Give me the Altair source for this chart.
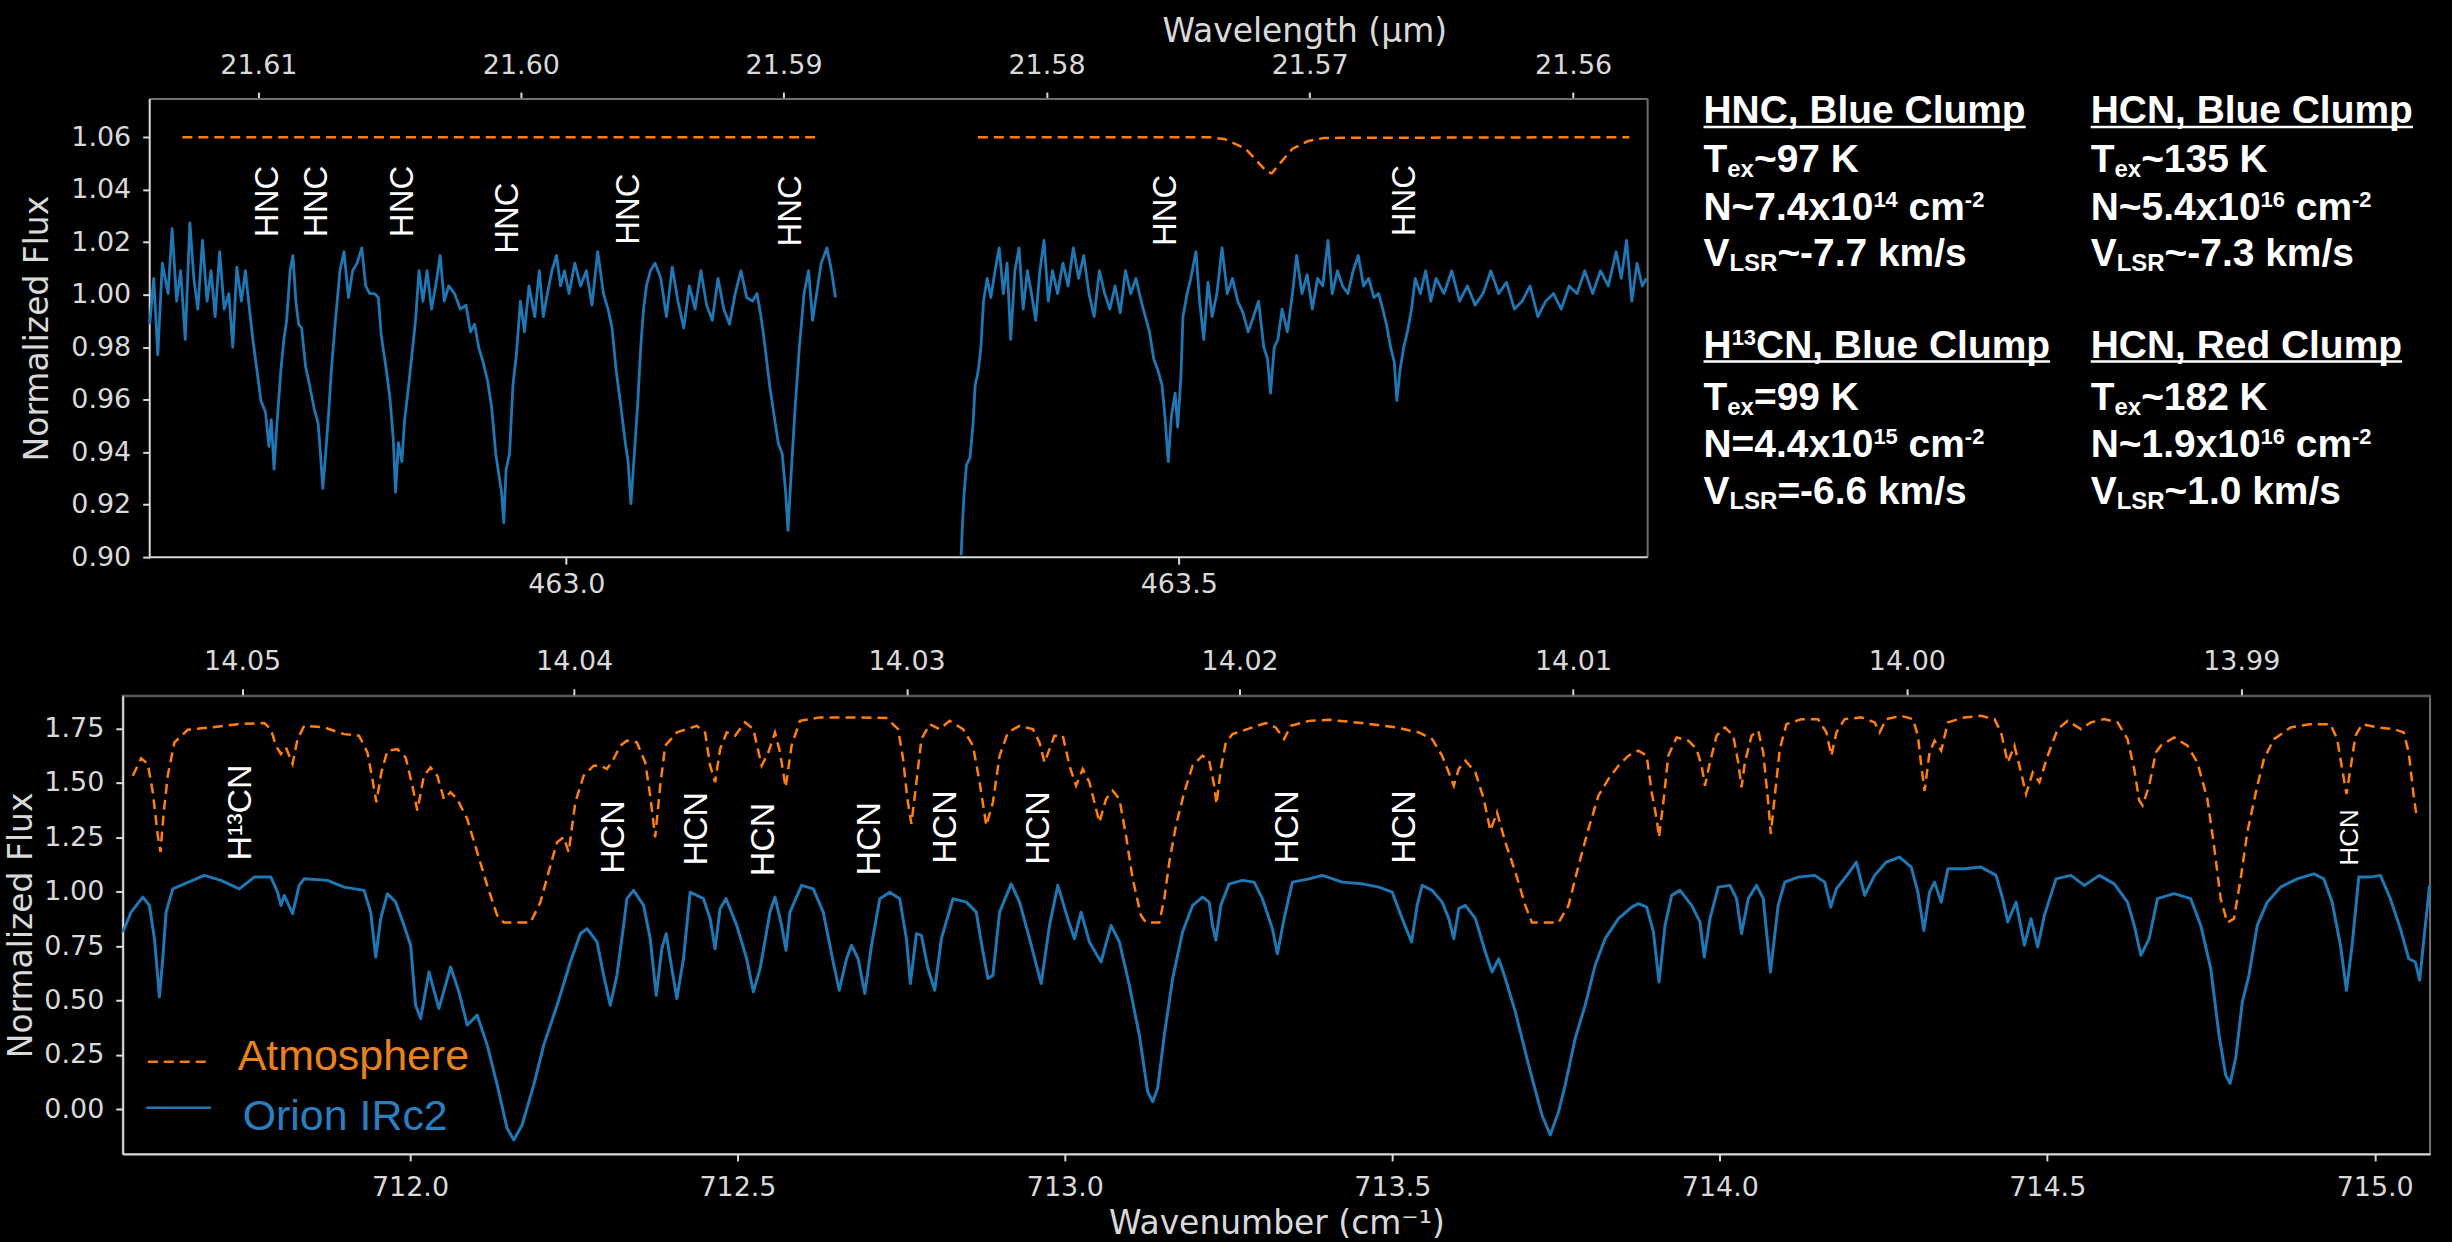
import altair as alt
import pandas as pd

# ---------------------------------------------------------------------------
# Orion IRc2 spectrum around the HNC band (wavenumber in cm^-1, normalized flux).
# Two spectral orders with a gap between them.
ORION_HNC_A = [
    (462.6600, 0.9887), (462.6633, 1.0062), (462.6666, 0.9771), (462.6703, 1.0120), (462.6750, 1.0004),
    (462.6783, 1.0251), (462.6820, 0.9975), (462.6853, 1.0091), (462.6890, 0.9829), (462.6928, 1.0273),
    (462.6960, 1.0062), (462.6993, 0.9945), (462.7031, 1.0207), (462.7068, 0.9975), (462.7101, 1.0091),
    (462.7134, 0.9916), (462.7171, 1.0164), (462.7208, 0.9945), (462.7246, 1.0004), (462.7278, 0.9800),
    (462.7311, 1.0105), (462.7349, 0.9975), (462.7381, 1.0091), (462.7414, 0.9945), (462.7442, 0.9829),
    (462.7475, 0.9713), (462.7508, 0.9596), (462.7545, 0.9553), (462.7573, 0.9422), (462.7592, 0.9524),
    (462.7615, 0.9335), (462.7639, 0.9509), (462.7671, 0.9713), (462.7695, 0.9829), (462.7718, 0.9902),
    (462.7746, 1.0091), (462.7769, 1.0149), (462.7793, 0.9975), (462.7816, 0.9887), (462.7840, 0.9873),
    (462.7872, 0.9727), (462.7905, 0.9655), (462.7942, 0.9567), (462.7975, 0.9509), (462.7994, 0.9393),
    (462.8013, 0.9262), (462.8036, 0.9393), (462.8059, 0.9538), (462.8083, 0.9713), (462.8116, 0.9902),
    (462.8153, 1.0091), (462.8186, 1.0164), (462.8223, 0.9989), (462.8256, 1.0091), (462.8293, 1.0120),
    (462.8331, 1.0178), (462.8363, 1.0033), (462.8396, 1.0004), (462.8434, 1.0004), (462.8466, 0.9989),
    (462.8490, 0.9844), (462.8527, 0.9727), (462.8560, 0.9611), (462.8588, 0.9451), (462.8607, 0.9247),
    (462.8630, 0.9436), (462.8658, 0.9364), (462.8681, 0.9524), (462.8714, 0.9655), (462.8747, 0.9800),
    (462.8770, 0.9902), (462.8798, 1.0091), (462.8831, 0.9975), (462.8864, 1.0091), (462.8901, 0.9945),
    (462.8939, 1.0047), (462.8971, 1.0149), (462.9004, 0.9975), (462.9041, 1.0033), (462.9088, 1.0004),
    (462.9135, 0.9945), (462.9182, 0.9960), (462.9219, 0.9858), (462.9252, 0.9887), (462.9285, 0.9800),
    (462.9322, 0.9742), (462.9359, 0.9669), (462.9392, 0.9567), (462.9425, 0.9393), (462.9453, 0.9305),
    (462.9472, 0.9247), (462.9490, 0.9131), (462.9509, 0.9335), (462.9537, 0.9393), (462.9565, 0.9655),
    (462.9593, 0.9771), (462.9626, 0.9975), (462.9659, 0.9858), (462.9696, 1.0033), (462.9743, 0.9916),
    (462.9780, 1.0091), (462.9813, 0.9916), (462.9846, 1.0004), (462.9883, 1.0091), (462.9921, 1.0149),
    (462.9953, 1.0033), (462.9986, 1.0091), (463.0023, 1.0004), (463.0070, 1.0120), (463.0117, 1.0033),
    (463.0164, 1.0091), (463.0210, 0.9960), (463.0257, 1.0164), (463.0304, 1.0004), (463.0341, 0.9945),
    (463.0374, 0.9873), (463.0407, 0.9713), (463.0444, 0.9582), (463.0482, 0.9436), (463.0505, 0.9364),
    (463.0528, 0.9204), (463.0556, 0.9393), (463.0585, 0.9596), (463.0608, 0.9800), (463.0631, 0.9945),
    (463.0655, 1.0033), (463.0687, 1.0091), (463.0725, 1.0120), (463.0772, 1.0062), (463.0818, 0.9916),
    (463.0865, 1.0105), (463.0912, 0.9975), (463.0959, 0.9873), (463.1005, 1.0033), (463.1052, 0.9945),
    (463.1099, 1.0091), (463.1146, 0.9960), (463.1192, 0.9902), (463.1239, 1.0062), (463.1286, 0.9945),
    (463.1333, 0.9887), (463.1379, 1.0004), (463.1426, 1.0091), (463.1473, 0.9989), (463.1520, 0.9975),
    (463.1557, 1.0004), (463.1590, 0.9916), (463.1623, 0.9800), (463.1660, 0.9655), (463.1697, 0.9538),
    (463.1730, 0.9436), (463.1763, 0.9393), (463.1791, 0.9247), (463.1810, 0.9102), (463.1838, 0.9335),
    (463.1870, 0.9582), (463.1903, 0.9800), (463.1941, 1.0004), (463.1978, 1.0091), (463.2011, 0.9902),
    (463.2044, 1.0004), (463.2081, 1.0120), (463.2128, 1.0178), (463.2165, 1.0091), (463.2198, 0.9989),
]
ORION_HNC_B = [
    (463.3223, 0.9007), (463.3244, 0.9218), (463.3266, 0.9349), (463.3295, 0.9378), (463.3321, 0.9509),
    (463.3338, 0.9655), (463.3364, 0.9713), (463.3385, 0.9800), (463.3406, 0.9975), (463.3436, 1.0062),
    (463.3466, 0.9989), (463.3500, 1.0091), (463.3534, 1.0178), (463.3568, 1.0004), (463.3598, 1.0120),
    (463.3628, 0.9829), (463.3662, 1.0091), (463.3696, 1.0178), (463.3730, 0.9945), (463.3764, 1.0091),
    (463.3798, 1.0004), (463.3832, 0.9902), (463.3866, 1.0091), (463.3900, 1.0207), (463.3935, 0.9975),
    (463.3969, 1.0091), (463.4011, 1.0004), (463.4054, 1.0120), (463.4096, 1.0033), (463.4139, 1.0178),
    (463.4182, 1.0062), (463.4224, 1.0149), (463.4267, 1.0004), (463.4309, 0.9916), (463.4352, 1.0091),
    (463.4395, 1.0004), (463.4437, 0.9945), (463.4480, 1.0033), (463.4522, 0.9931), (463.4565, 1.0091),
    (463.4608, 1.0004), (463.4650, 1.0062), (463.4693, 0.9975), (463.4727, 0.9916), (463.4761, 0.9858),
    (463.4795, 0.9756), (463.4829, 0.9713), (463.4863, 0.9655), (463.4889, 0.9524), (463.4914, 0.9364),
    (463.4940, 0.9538), (463.4970, 0.9625), (463.4991, 0.9495), (463.5017, 0.9684), (463.5034, 0.9916),
    (463.5068, 1.0004), (463.5098, 1.0062), (463.5140, 1.0164), (463.5170, 0.9975), (463.5204, 0.9829),
    (463.5238, 1.0047), (463.5272, 0.9916), (463.5311, 1.0004), (463.5353, 1.0178), (463.5396, 1.0004),
    (463.5438, 1.0062), (463.5481, 0.9975), (463.5524, 0.9931), (463.5566, 0.9858), (463.5609, 0.9916),
    (463.5651, 0.9975), (463.5694, 0.9800), (463.5724, 0.9756), (463.5749, 0.9625), (463.5779, 0.9800),
    (463.5809, 0.9829), (463.5843, 0.9945), (463.5886, 0.9858), (463.5928, 1.0004), (463.5962, 1.0149),
    (463.6005, 1.0004), (463.6048, 1.0076), (463.6090, 0.9945), (463.6133, 1.0062), (463.6175, 1.0033),
    (463.6218, 1.0207), (463.6252, 1.0004), (463.6295, 1.0091), (463.6337, 1.0033), (463.6380, 1.0004),
    (463.6423, 1.0091), (463.6465, 1.0149), (463.6508, 1.0033), (463.6550, 1.0062), (463.6593, 0.9989),
    (463.6631, 1.0004), (463.6665, 0.9945), (463.6695, 0.9887), (463.6729, 0.9800), (463.6759, 0.9742),
    (463.6780, 0.9596), (463.6806, 0.9713), (463.6836, 0.9800), (463.6866, 0.9858), (463.6900, 0.9945),
    (463.6930, 1.0062), (463.6972, 1.0004), (463.7015, 1.0091), (463.7057, 0.9975), (463.7100, 1.0062),
    (463.7164, 1.0004), (463.7228, 1.0091), (463.7292, 0.9975), (463.7356, 1.0033), (463.7419, 0.9960),
    (463.7483, 1.0004), (463.7547, 1.0091), (463.7611, 1.0004), (463.7675, 1.0047), (463.7739, 0.9945),
    (463.7803, 0.9975), (463.7867, 1.0033), (463.7931, 0.9916), (463.7995, 0.9975), (463.8059, 1.0004),
    (463.8122, 0.9945), (463.8186, 1.0033), (463.8250, 1.0004), (463.8314, 1.0091), (463.8378, 1.0004),
    (463.8442, 1.0091), (463.8506, 1.0033), (463.8570, 1.0164), (463.8612, 1.0062), (463.8655, 1.0207),
    (463.8698, 0.9975), (463.8740, 1.0120), (463.8783, 1.0033), (463.8817, 1.0062),
]
# Atmospheric transmission model over the same two orders
ATM_HNC_A = [(462.6867, 1.0600), (463.2058, 1.0600)]
ATM_HNC_B = [
    (463.3360, 1.0600), (463.5245, 1.0600), (463.5371, 1.0593), (463.5544, 1.0556), (463.5630, 1.0513),
    (463.5716, 1.0469), (463.5759, 1.0462), (463.5822, 1.0498), (463.5928, 1.0556), (463.6056, 1.0585),
    (463.6184, 1.0597), (463.8677, 1.0600),
]
HNC_LINES = [462.7568, 462.7966, 462.8667, 462.9523, 463.0515, 463.1838, 463.4897, 463.6844]
HNC_LABEL_FLUX = [1.0219, 1.0219, 1.0219, 1.0156, 1.0190, 1.0183, 1.0185, 1.0222]

# ---------------------------------------------------------------------------
# Orion IRc2 spectrum around the HCN band
ORION_HCN = [
    (711.5616, 0.815), (711.5742, 0.906), (711.5920, 0.975), (711.6022, 0.937), (711.6098, 0.784),
    (711.6174, 0.517), (711.6225, 0.692), (711.6276, 0.906), (711.6378, 1.013), (711.6555, 1.036),
    (711.6860, 1.075), (711.7114, 1.052), (711.7394, 1.013), (711.7622, 1.067), (711.7876, 1.067),
    (711.7978, 0.998), (711.8029, 0.937), (711.8080, 0.983), (711.8207, 0.899), (711.8308, 1.029),
    (711.8384, 1.059), (711.8740, 1.052), (711.8994, 1.021), (711.9299, 1.006), (711.9400, 0.906),
    (711.9477, 0.700), (711.9553, 0.876), (711.9655, 0.991), (711.9782, 0.952), (711.9909, 0.845),
    (712.0010, 0.754), (712.0086, 0.478), (712.0163, 0.417), (712.0290, 0.631), (712.0442, 0.463),
    (712.0620, 0.654), (712.0747, 0.540), (712.0874, 0.387), (712.1026, 0.433), (712.1179, 0.295),
    (712.1331, 0.112), (712.1483, -0.087), (712.1585, -0.141), (712.1712, -0.072), (712.1890, 0.112),
    (712.2042, 0.295), (712.2246, 0.478), (712.2449, 0.677), (712.2601, 0.807), (712.2703, 0.830),
    (712.2855, 0.769), (712.2957, 0.616), (712.3058, 0.478), (712.3160, 0.616), (712.3262, 0.845),
    (712.3312, 0.968), (712.3414, 1.006), (712.3567, 0.937), (712.3668, 0.784), (712.3760, 0.524),
    (712.3846, 0.738), (712.3912, 0.807), (712.3973, 0.692), (712.4075, 0.509), (712.4176, 0.692),
    (712.4278, 0.998), (712.4481, 0.968), (712.4583, 0.876), (712.4659, 0.738), (712.4735, 0.922),
    (712.4826, 0.968), (712.4989, 0.845), (712.5141, 0.692), (712.5243, 0.540), (712.5345, 0.646),
    (712.5497, 0.906), (712.5573, 0.975), (712.5675, 0.845), (712.5741, 0.731), (712.5802, 0.906),
    (712.5980, 1.029), (712.6158, 1.013), (712.6310, 0.906), (712.6462, 0.677), (712.6554, 0.547),
    (712.6666, 0.692), (712.6742, 0.754), (712.6843, 0.692), (712.6945, 0.532), (712.7047, 0.754),
    (712.7174, 0.968), (712.7326, 0.998), (712.7478, 0.968), (712.7580, 0.784), (712.7641, 0.578),
    (712.7733, 0.807), (712.7809, 0.799), (712.7910, 0.646), (712.8012, 0.547), (712.8114, 0.784),
    (712.8292, 0.968), (712.8495, 0.952), (712.8647, 0.906), (712.8749, 0.723), (712.8825, 0.601),
    (712.8901, 0.616), (712.9003, 0.906), (712.9180, 1.036), (712.9308, 0.952), (712.9460, 0.784),
    (712.9638, 0.578), (712.9765, 0.845), (712.9892, 1.029), (713.0044, 0.876), (713.0146, 0.784),
    (713.0247, 0.906), (713.0374, 0.769), (713.0552, 0.677), (713.0705, 0.845), (713.0832, 0.769),
    (713.0984, 0.570), (713.1137, 0.341), (713.1264, 0.081), (713.1340, 0.035), (713.1416, 0.096),
    (713.1518, 0.341), (713.1645, 0.601), (713.1797, 0.815), (713.1950, 0.937), (713.2102, 0.975),
    (713.2203, 0.952), (713.2254, 0.845), (713.2305, 0.777), (713.2381, 0.937), (713.2508, 1.036),
    (713.2711, 1.052), (713.2889, 1.044), (713.3016, 0.968), (713.3169, 0.830), (713.3245, 0.715),
    (713.3347, 0.876), (713.3474, 1.044), (713.3728, 1.059), (713.3931, 1.075), (713.4236, 1.044),
    (713.4540, 1.036), (713.4794, 1.021), (713.4998, 0.998), (713.5150, 0.876), (713.5293, 0.769),
    (713.5379, 0.937), (713.5455, 1.029), (713.5608, 1.006), (713.5760, 0.952), (713.5862, 0.876),
    (713.5938, 0.784), (713.6014, 0.922), (713.6116, 0.937), (713.6268, 0.876), (713.6420, 0.723),
    (713.6522, 0.631), (713.6624, 0.692), (713.6725, 0.601), (713.6878, 0.448), (713.7081, 0.203),
    (713.7284, -0.026), (713.7411, -0.118), (713.7538, -0.011), (713.7640, 0.112), (713.7792, 0.326),
    (713.7944, 0.478), (713.8097, 0.662), (713.8249, 0.784), (713.8452, 0.876), (713.8656, 0.929),
    (713.8757, 0.945), (713.8884, 0.929), (713.8986, 0.815), (713.9072, 0.585), (713.9164, 0.845),
    (713.9265, 0.983), (713.9392, 1.006), (713.9570, 0.937), (713.9697, 0.861), (713.9763, 0.700),
    (713.9850, 0.876), (713.9977, 1.021), (714.0155, 1.029), (714.0256, 0.968), (714.0332, 0.807),
    (714.0434, 0.968), (714.0561, 1.029), (714.0663, 0.968), (714.0774, 0.631), (714.0891, 0.937),
    (714.0993, 1.044), (714.1196, 1.067), (714.1450, 1.075), (714.1602, 1.044), (714.1694, 0.929),
    (714.1780, 1.013), (714.1958, 1.082), (714.2085, 1.136), (714.2212, 0.983), (714.2364, 1.075),
    (714.2542, 1.136), (714.2745, 1.159), (714.2923, 1.113), (714.3025, 0.998), (714.3116, 0.822),
    (714.3203, 0.998), (714.3279, 1.044), (714.3381, 0.952), (714.3482, 1.105), (714.3736, 1.105),
    (714.3990, 1.113), (714.4219, 1.075), (714.4320, 0.968), (714.4397, 0.861), (714.4524, 0.952),
    (714.4651, 0.754), (714.4752, 0.876), (714.4854, 0.746), (714.4956, 0.891), (714.5134, 1.059),
    (714.5362, 1.075), (714.5565, 1.029), (714.5794, 1.075), (714.6023, 1.036), (714.6226, 0.952),
    (714.6328, 0.845), (714.6430, 0.708), (714.6556, 0.784), (714.6683, 0.968), (714.6937, 0.991),
    (714.7191, 0.968), (714.7344, 0.845), (714.7496, 0.647), (714.7623, 0.341), (714.7725, 0.157),
    (714.7791, 0.119), (714.7877, 0.234), (714.7979, 0.494), (714.8080, 0.616), (714.8207, 0.845),
    (714.8359, 0.952), (714.8563, 1.021), (714.8817, 1.059), (714.9071, 1.082), (714.9223, 1.059),
    (714.9350, 0.952), (714.9477, 0.754), (714.9569, 0.547), (714.9655, 0.754), (714.9757, 1.067),
    (714.9935, 1.067), (715.0087, 1.075), (715.0239, 0.968), (715.0392, 0.830), (715.0519, 0.692),
    (715.0620, 0.677), (715.0686, 0.593), (715.0773, 0.845), (715.0839, 1.029),
]
ATM_HCN = [
    (711.5768, 1.533), (711.5895, 1.613), (711.5997, 1.587), (711.6073, 1.457), (711.6149, 1.258),
    (711.6190, 1.182), (711.6240, 1.365), (711.6301, 1.533), (711.6403, 1.686), (711.6606, 1.744),
    (711.6962, 1.755), (711.7368, 1.770), (711.7775, 1.775), (711.7876, 1.747), (711.7953, 1.671),
    (711.8029, 1.633), (711.8105, 1.663), (711.8207, 1.587), (711.8283, 1.701), (711.8384, 1.762),
    (711.8689, 1.755), (711.8994, 1.724), (711.9223, 1.717), (711.9350, 1.640), (711.9426, 1.518),
    (711.9487, 1.411), (711.9563, 1.548), (711.9655, 1.648), (711.9807, 1.655), (711.9934, 1.617),
    (712.0036, 1.487), (712.0112, 1.373), (712.0213, 1.533), (712.0315, 1.571), (712.0417, 1.533),
    (712.0518, 1.426), (712.0620, 1.457), (712.0721, 1.426), (712.0874, 1.334), (712.1026, 1.182),
    (712.1179, 1.029), (712.1331, 0.891), (712.1433, 0.858), (712.1839, 0.858), (712.1992, 0.952),
    (712.2144, 1.120), (712.2246, 1.227), (712.2347, 1.250), (712.2423, 1.182), (712.2525, 1.411),
    (712.2652, 1.533), (712.2804, 1.579), (712.2906, 1.579), (712.3008, 1.564), (712.3109, 1.610),
    (712.3211, 1.671), (712.3312, 1.694), (712.3465, 1.686), (712.3592, 1.594), (712.3668, 1.441),
    (712.3744, 1.250), (712.3821, 1.487), (712.3897, 1.671), (712.4075, 1.732), (712.4379, 1.762),
    (712.4506, 1.732), (712.4583, 1.579), (712.4659, 1.503), (712.4735, 1.655), (712.4837, 1.732),
    (712.4964, 1.717), (712.5116, 1.778), (712.5243, 1.747), (712.5370, 1.579), (712.5472, 1.640),
    (712.5573, 1.732), (712.5650, 1.640), (712.5736, 1.480), (712.5827, 1.671), (712.5954, 1.785),
    (712.6259, 1.801), (712.6767, 1.801), (712.7275, 1.798), (712.7453, 1.747), (712.7529, 1.610),
    (712.7595, 1.426), (712.7656, 1.312), (712.7733, 1.503), (712.7809, 1.701), (712.7936, 1.770),
    (712.8088, 1.747), (712.8241, 1.785), (712.8444, 1.747), (712.8596, 1.671), (712.8698, 1.503),
    (712.8800, 1.304), (712.8901, 1.411), (712.9003, 1.625), (712.9130, 1.732), (712.9308, 1.762),
    (712.9511, 1.747), (712.9612, 1.686), (712.9689, 1.594), (712.9765, 1.655), (712.9841, 1.717),
    (712.9968, 1.717), (713.0070, 1.579), (713.0171, 1.487), (713.0273, 1.564), (713.0374, 1.503),
    (713.0527, 1.319), (713.0628, 1.426), (713.0730, 1.464), (713.0832, 1.426), (713.0933, 1.258),
    (713.1035, 1.059), (713.1162, 0.891), (713.1238, 0.858), (713.1441, 0.858), (713.1518, 0.968),
    (713.1594, 1.136), (713.1696, 1.304), (713.1823, 1.457), (713.1950, 1.579), (713.2102, 1.625),
    (713.2203, 1.602), (713.2280, 1.487), (713.2315, 1.403), (713.2381, 1.564), (713.2457, 1.686),
    (713.2559, 1.724), (713.2864, 1.755), (713.3067, 1.775), (713.3219, 1.755), (713.3347, 1.701),
    (713.3448, 1.762), (713.3728, 1.785), (713.4032, 1.790), (713.4540, 1.775), (713.5048, 1.755),
    (713.5404, 1.732), (713.5608, 1.701), (713.5760, 1.625), (713.5862, 1.548), (713.5938, 1.487),
    (713.6014, 1.564), (713.6116, 1.602), (713.6268, 1.548), (713.6395, 1.426), (713.6497, 1.281),
    (713.6598, 1.365), (713.6725, 1.227), (713.6878, 1.090), (713.7030, 0.937), (713.7132, 0.858),
    (713.7538, 0.858), (713.7690, 0.937), (713.7843, 1.120), (713.7995, 1.289), (713.8147, 1.441),
    (713.8300, 1.518), (713.8452, 1.579), (713.8605, 1.625), (713.8757, 1.648), (713.8884, 1.625),
    (713.8960, 1.457), (713.9036, 1.334), (713.9072, 1.250), (713.9138, 1.411), (713.9214, 1.625),
    (713.9341, 1.709), (713.9519, 1.694), (713.9646, 1.655), (713.9722, 1.579), (713.9773, 1.487),
    (713.9850, 1.594), (713.9951, 1.717), (714.0078, 1.755), (714.0205, 1.717), (714.0281, 1.594),
    (714.0332, 1.480), (714.0383, 1.594), (714.0485, 1.717), (714.0587, 1.740), (714.0663, 1.640),
    (714.0739, 1.411), (714.0779, 1.266), (714.0840, 1.441), (714.0916, 1.655), (714.1018, 1.770),
    (714.1247, 1.793), (714.1501, 1.793), (714.1628, 1.732), (714.1704, 1.625), (714.1780, 1.732),
    (714.1907, 1.793), (714.2161, 1.801), (714.2364, 1.778), (714.2441, 1.732), (714.2542, 1.793),
    (714.2771, 1.808), (714.2949, 1.793), (714.3025, 1.717), (714.3076, 1.579), (714.3127, 1.464),
    (714.3203, 1.640), (714.3279, 1.694), (714.3381, 1.648), (714.3482, 1.778), (714.3736, 1.801),
    (714.3990, 1.808), (714.4194, 1.793), (714.4295, 1.732), (714.4397, 1.594), (714.4499, 1.671),
    (714.4600, 1.548), (714.4676, 1.449), (714.4778, 1.548), (714.4880, 1.503), (714.5007, 1.625),
    (714.5159, 1.747), (714.5311, 1.785), (714.5515, 1.747), (714.5667, 1.778), (714.5870, 1.793),
    (714.6074, 1.778), (714.6226, 1.701), (714.6328, 1.564), (714.6404, 1.419), (714.6455, 1.396),
    (714.6556, 1.487), (714.6658, 1.640), (714.6734, 1.671), (714.6937, 1.709), (714.7140, 1.671),
    (714.7292, 1.594), (714.7445, 1.426), (714.7546, 1.212), (714.7648, 0.968), (714.7750, 0.858),
    (714.7851, 0.876), (714.7953, 1.059), (714.8055, 1.273), (714.8207, 1.487), (714.8309, 1.610),
    (714.8461, 1.701), (714.8715, 1.755), (714.9020, 1.770), (714.9325, 1.770), (714.9427, 1.701),
    (714.9503, 1.564), (714.9569, 1.449), (714.9630, 1.564), (714.9706, 1.717), (714.9808, 1.770),
    (715.0036, 1.755), (715.0290, 1.747), (715.0443, 1.732), (715.0519, 1.640), (715.0595, 1.441),
    (715.0646, 1.334),
]
HCN_NAMES = ["H\u00b9\u00b3CN", "HCN", "HCN", "HCN", "HCN", "HCN", "HCN", "HCN", "HCN"]
HCN_LINES = [711.742, 712.311, 712.438, 712.540, 712.702, 712.818, 712.960, 713.341, 713.519]
HCN_LABEL_FLUX = [1.143, 1.082, 1.120, 1.071, 1.074, 1.128, 1.124, 1.128, 1.128]
HCN_WEAK_LINE = [714.963]
HCN_WEAK_LABEL_FLUX = [1.120]

# Axis ticks
WN_TICKS_HNC = [463.0, 463.5]
WN_TICKS_HCN = [712.0, 712.5, 713.0, 713.5, 714.0, 714.5, 715.0]
WL_TICKS_HNC = [21.61, 21.60, 21.59, 21.58, 21.57, 21.56]
WL_TICKS_HCN = [14.05, 14.04, 14.03, 14.02, 14.01, 14.00, 13.99]
FLUX_TICKS_HNC = [0.90, 0.92, 0.94, 0.96, 0.98, 1.00, 1.02, 1.04, 1.06]
FLUX_TICKS_HCN = [0.00, 0.25, 0.50, 0.75, 1.00, 1.25, 1.50, 1.75]

# Fit results: heading, excitation temperature, column density, velocity
FIT_BLOCKS = [
    {"head": [("HNC, Blue Clump", "n")], "tex": "~97 K", "n": "~7.4x10", "exp": "14", "v": "~-7.7 km/s"},
    {"head": [("H", "n"), ("13", "sup"), ("CN, Blue Clump", "n")], "tex": "=99 K", "n": "=4.4x10", "exp": "15", "v": "=-6.6 km/s"},
    {"head": [("HCN, Blue Clump", "n")], "tex": "~135 K", "n": "~5.4x10", "exp": "16", "v": "~-7.3 km/s"},
    {"head": [("HCN, Red Clump", "n")], "tex": "~182 K", "n": "~1.9x10", "exp": "16", "v": "~1.0 km/s"},
]

# ---------------------------------------------------------------------------
BLUE = "#1f77b4"
ORANGE = "#ff7f0e"
FG = "#d9d9d9"
SPINE = "#6e6e6e"
DASH = [10, 6]
LEFT = 121          # common left offset of both panel cells


def spectrum(pairs, seg=0):
    return pd.DataFrame({"wn": [p[0] for p in pairs], "flux": [p[1] for p in pairs], "seg": seg})


def wavelength_axis(ticks, **kw):
    return alt.Axis(orient="top", values=[1e4 / w for w in ticks],
                    labelExpr="format(10000 / datum.value, '.2f')",
                    domainColor="#555555", labelPadding=13, **kw)


def pixel_rule(color, **enc):
    return alt.Chart(one_row).mark_rule(color=color, strokeWidth=2).encode(
        **{k: alt.value(v) for k, v in enc.items()})


one_row = pd.DataFrame({"k": [0]})

# ---------------- HNC panel ----------------
# The HNC frame starts INSET px to the right of the cell origin; its x scale covers the inset too.
INSET = 27
TOP_W, TOP_H = 1528, 459
xs_top = alt.Scale(domain=[462.6380, 463.8827], nice=False, zero=False)
ys_top = alt.Scale(domain=[0.90, 1.0745], nice=False, zero=False)

orion_top = pd.concat([spectrum(ORION_HNC_A, 0), spectrum(ORION_HNC_B, 1)])
atm_top = pd.concat([spectrum(ATM_HNC_A, 0), spectrum(ATM_HNC_B, 1)])

top_frame = alt.layer(
    # invisible corner marks that pin the cell's outer extent
    pixel_rule("black", x=-LEFT, x2=-LEFT + 8, y=-96),
    pixel_rule("black", x=-LEFT, x2=-LEFT + 8, y=TOP_H + 46),
    # panel spines
    pixel_rule(SPINE, x=INSET, x2=TOP_W, y=0),
    pixel_rule(SPINE, x=TOP_W, y=0, y2=TOP_H),
    pixel_rule(FG, x=INSET, y=0, y2=TOP_H),
    pixel_rule(FG, x=INSET, x2=TOP_W, y=TOP_H),
)
top_atm = alt.Chart(atm_top).mark_line(color=ORANGE, strokeWidth=2.5, strokeDash=DASH).encode(
    x=alt.X("wn:Q", scale=xs_top,
            axis=wavelength_axis(WL_TICKS_HNC, title="Wavelength (\u00b5m)", titleX=1184, titleY=-68,
                                 titleBaseline="middle", domain=False)),
    y=alt.Y("flux:Q", scale=ys_top, axis=None),
    detail="seg:N",
)
top_orion = alt.Chart(orion_top).mark_line(color=BLUE, strokeWidth=2.8, strokeJoin="round").encode(
    x=alt.X("wn:Q", scale=xs_top,
            axis=alt.Axis(orient="bottom", values=WN_TICKS_HNC, format=".1f", title=None, labelPadding=7,
                          domain=False)),
    y=alt.Y("flux:Q", scale=ys_top,
            axis=alt.Axis(orient="left", offset=-INSET, domain=False, values=FLUX_TICKS_HNC, format=".2f",
                          title="Normalized Flux", labelPadding=12, titlePadding=16)),
    detail="seg:N",
)
hnc_labels = alt.Chart(pd.DataFrame({"wn": HNC_LINES, "flux": HNC_LABEL_FLUX, "name": "HNC"})).mark_text(
    angle=270, align="left", baseline="middle", font="Liberation Sans", fontSize=33, color="white"
).encode(
    x=alt.X("wn:Q", scale=xs_top, axis=None),
    y=alt.Y("flux:Q", scale=ys_top, axis=None),
    text="name:N",
)
top_panel = alt.layer(top_frame, top_atm, top_orion, hnc_labels).resolve_axis(
    x="independent", y="independent").properties(
    width=TOP_W, height=TOP_H, view=alt.ViewBackground(stroke="transparent"))

# ---------------- fit-result text block ----------------
ARIAL_BOLD = {"H": 722, "N": 722, "C": 722, ",": 278, " ": 278, "B": 722, "l": 278, "u": 611, "e": 556,
              "m": 889, "p": 611, "R": 722, "d": 611, "T": 611, "x": 556, "~": 584, "=": 584, "K": 722,
              ".": 278, "-": 333, "/": 278, "k": 556, "s": 556, "V": 667, "L": 611, "S": 667, "c": 556}
SIZES = {"n": 39, "sub": 24, "sup": 22}
SHIFT = {"n": 0, "sub": 5, "sup": -13}
COL_X = [53, 441]
ROW_BASE = [[24, 73, 121, 167], [259, 312, 359, 406]]


def text_width(s, size):
    return sum(ARIAL_BOLD.get(c, 556) for c in s) / 1000.0 * size


note_rows, underline_rows = [], []
for b, blk in enumerate(FIT_BLOCKS):
    x0 = COL_X[b // 2]
    bases = ROW_BASE[b % 2]
    lines = [
        blk["head"],
        [("T", "n"), ("ex", "sub"), (blk["tex"], "n")],
        [("N" + blk["n"], "n"), (blk["exp"], "sup"), (" cm", "n"), ("-2", "sup")],
        [("V", "n"), ("LSR", "sub"), (blk["v"], "n")],
    ]
    for li, (line, base) in enumerate(zip(lines, bases)):
        cx = x0
        for txt, kind in line:
            fs = SIZES[kind]
            body = txt.lstrip(" ")
            cx += text_width(txt[: len(txt) - len(body)], fs)
            note_rows.append({"t": body, "px": cx, "py": base + SHIFT[kind], "fs": fs})
            cx += text_width(body, fs)
        if li == 0:
            underline_rows.append({"x0": x0, "x1": cx, "uy": base + 4})

notes_text = alt.Chart(pd.DataFrame(note_rows)).mark_text(
    align="left", baseline="alphabetic", font="Liberation Sans", fontWeight="bold", color="white"
).encode(
    x=alt.X("px:Q", scale=None, axis=None),
    y=alt.Y("py:Q", scale=None, axis=None),
    size=alt.Size("fs:Q", scale=None, legend=None),
    text="t:N",
)
notes_rule = alt.Chart(pd.DataFrame(underline_rows)).mark_rule(color="white", strokeWidth=2.5).encode(
    x=alt.X("x0:Q", scale=None, axis=None),
    x2="x1:Q",
    y=alt.Y("uy:Q", scale=None, axis=None),
)
notes = alt.layer(notes_text, notes_rule).properties(
    width=802, height=TOP_H, view=alt.ViewBackground(stroke="transparent"))

# ---------------- HCN panel ----------------
BOT_W, BOT_H = 2312, 459
xs_bot = alt.Scale(domain=[711.5614, 715.0845], nice=False, zero=False)
ys_bot = alt.Scale(domain=[-0.205, 1.900], nice=False, zero=False)

bot_frame = pixel_rule("black", x=-LEFT, x2=-LEFT + 8, y=-50)
bot_atm = alt.Chart(spectrum(ATM_HCN)).mark_line(color=ORANGE, strokeWidth=2.5, strokeDash=DASH).encode(
    x=alt.X("wn:Q", scale=xs_bot, axis=wavelength_axis(WL_TICKS_HCN, title=None)),
    y=alt.Y("flux:Q", scale=ys_bot, axis=None),
)
bot_orion = alt.Chart(spectrum(ORION_HCN)).mark_line(color=BLUE, strokeWidth=3, strokeJoin="round").encode(
    x=alt.X("wn:Q", scale=xs_bot,
            axis=alt.Axis(orient="bottom", values=WN_TICKS_HCN, format=".1f",
                          title="Wavenumber (cm\u207b\u00b9)", labelPadding=14, titlePadding=7)),
    y=alt.Y("flux:Q", scale=ys_bot,
            axis=alt.Axis(orient="left", values=FLUX_TICKS_HCN, format=".2f", title="Normalized Flux",
                          labelPadding=12, titlePadding=5)),
)
hcn_labels = alt.Chart(pd.DataFrame({"wn": HCN_LINES, "flux": HCN_LABEL_FLUX, "name": HCN_NAMES})).mark_text(
    angle=270, align="left", baseline="middle", font="Liberation Sans", fontSize=34, color="white"
).encode(
    x=alt.X("wn:Q", scale=xs_bot, axis=None),
    y=alt.Y("flux:Q", scale=ys_bot, axis=None),
    text="name:N",
)
hcn_weak = alt.Chart(pd.DataFrame({"wn": HCN_WEAK_LINE, "flux": HCN_WEAK_LABEL_FLUX, "name": "HCN"})).mark_text(
    angle=270, align="left", baseline="middle", font="Liberation Sans", fontSize=26, color="white"
).encode(
    x=alt.X("wn:Q", scale=xs_bot, axis=None),
    y=alt.Y("flux:Q", scale=ys_bot, axis=None),
    text="name:N",
)

# hand-drawn legend in the lower-left corner
key_atm = alt.Chart(pd.DataFrame({"a": [711.5998], "b": [711.6936], "f": [0.218]})).mark_rule(
    color=ORANGE, strokeWidth=2.5, strokeDash=DASH).encode(
    x=alt.X("a:Q", scale=xs_bot, axis=None), x2="b:Q", y=alt.Y("f:Q", scale=ys_bot, axis=None))
key_orion = alt.Chart(pd.DataFrame({"a": [711.5972], "b": [711.6962], "f": [0.0073]})).mark_rule(
    color=BLUE, strokeWidth=2.5).encode(
    x=alt.X("a:Q", scale=xs_bot, axis=None), x2="b:Q", y=alt.Y("f:Q", scale=ys_bot, axis=None))
key_text = alt.Chart(pd.DataFrame({
    "a": [711.7369, 711.7445], "f": [0.180, -0.095],
    "name": ["Atmosphere", "Orion IRc2"], "series": ["atm", "orion"],
})).mark_text(align="left", baseline="alphabetic", font="Liberation Sans", fontSize=43).encode(
    x=alt.X("a:Q", scale=xs_bot, axis=None),
    y=alt.Y("f:Q", scale=ys_bot, axis=None),
    text="name:N",
    color=alt.Color("series:N", scale=alt.Scale(domain=["atm", "orion"], range=["#e8821e", "#2a7fc0"]),
                    legend=None),
)

bottom_panel = alt.layer(bot_frame, bot_atm, bot_orion, hcn_labels, hcn_weak, key_atm, key_orion,
                         key_text).resolve_axis(x="independent", y="independent").properties(
    width=BOT_W, height=BOT_H, view=alt.ViewBackground(stroke=SPINE, strokeWidth=2))

chart = alt.vconcat(
    alt.hconcat(top_panel, notes, spacing=0),
    bottom_panel,
    spacing=39,
).properties(
    padding=0, background="black"
).configure_view(
    stroke="transparent"
).configure_axis(
    labelFont="DejaVu Sans", labelFontSize=27, labelColor=FG, labelFlush=False,
    titleFont="DejaVu Sans", titleFontSize=33, titleFontWeight="normal", titleColor=FG,
    tickColor=FG, tickSize=7, tickWidth=2, domainColor=FG, domainWidth=2, grid=False,
)

chart.save("out.html", embed_options={"renderer": "svg", "actions": False})
